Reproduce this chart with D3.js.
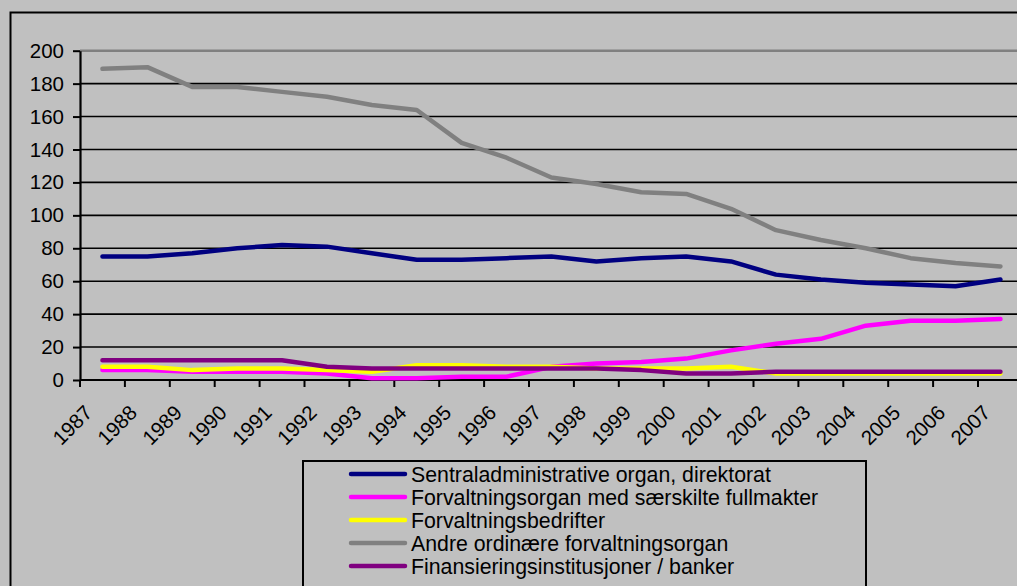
<!DOCTYPE html>
<html>
<head>
<meta charset="utf-8">
<script src="https://cdn.jsdelivr.net/npm/d3@7"></script>
<style>
  body { margin: 0; background: #c0c0c0; overflow: hidden; }
  svg text { font-family: "Liberation Sans", Arial, sans-serif; fill: #000; }
</style>
</head>
<body>
<div id="chart"></div>
<script>
const years = ["1987","1988","1989","1990","1991","1992","1993","1994","1995","1996","1997",
               "1998","1999","2000","2001","2002","2003","2004","2005","2006","2007"]

const seriesNames = [
  "Sentraladministrative organ, direktorat",
  "Forvaltningsorgan med særskilte fullmakter",
  "Forvaltningsbedrifter",
  "Andre ordinære forvaltningsorgan",
  "Finansieringsinstitusjoner / banker"
]

const sentral   = [75, 75, 77, 80, 82, 81, 77, 73, 73, 74, 75, 72, 74, 75, 72, 64, 61, 59, 58, 57, 61]
const fullmakt  = [6, 6, 5, 5, 5, 4, 1, 1, 2, 2, 8, 10, 11, 13, 18, 22, 25, 33, 36, 36, 37]
const bedrifter = [8, 8, 6, 7, 7, 6, 5, 9, 9, 8, 8, 7, 7, 7, 8, 4, 4, 4, 4, 4, 4]
const andre     = [189, 190, 178, 178, 175, 172, 167, 164, 144, 135, 123, 119, 114, 113, 104, 91, 85, 80, 74, 71, 69]
const finans    = [12, 12, 12, 12, 12, 8, 7, 7, 7, 7, 7, 7, 6, 4, 4, 5, 5, 5, 5, 5, 5]

const yTicks = [0, 20, 40, 60, 80, 100, 120, 140, 160, 180, 200]

const colors = ["#000080", "#ff00ff", "#ffff00", "#808080", "#800080"]
const allSeries = [sentral, fullmakt, bedrifter, andre, finans]

const width = 1017
const height = 586

const svg = d3.select("#chart")
  .append("svg")
    .attr("width", width)
    .attr("height", height)

svg.append("rect")
    .attr("x", 0).attr("y", 0)
    .attr("width", width).attr("height", height)
    .attr("fill", "#c0c0c0")

// outer frame (runs off the right and bottom edge)
svg.append("rect")
    .attr("x", 10.5).attr("y", 12.5)
    .attr("width", width + 20).attr("height", height + 20)
    .attr("fill", "none")
    .attr("stroke", "#000")
    .attr("stroke-width", 2)

const plotLeft = 80
const step = 44.9
const xScale = d3.scaleBand()
  .domain(years)
  .range([plotLeft, plotLeft + step * years.length])

const yScale = d3.scaleLinear()
  .domain([0, 200])
  .range([380, 50.7])

// gridlines
svg.append("g")
  .selectAll("line")
  .data(yTicks.filter(d => d > 0))
  .enter().append("line")
    .attr("x1", plotLeft)
    .attr("x2", width)
    .attr("y1", d => yScale(d))
    .attr("y2", d => yScale(d))
    .attr("stroke", d => d === 200 ? "#808080" : "#000")
    .attr("stroke-width", d => d === 200 ? 2.5 : 1.6)

// y axis
const yAxis = d3.axisLeft(yScale).tickValues(yTicks).tickSize(7).tickPadding(9).tickSizeOuter(0)
const yG = svg.append("g")
    .attr("transform", "translate(" + plotLeft + ",0)")
    .call(yAxis)
yG.select(".domain").attr("stroke", "#000").attr("stroke-width", 2.2)
yG.selectAll(".tick line").attr("stroke", "#000").attr("stroke-width", 2)
yG.selectAll(".tick text")
    .attr("font-size", 20.5)
    .attr("font-family", "Liberation Sans, Arial, sans-serif")
    .attr("fill", "#000")

// x axis: ticks on category boundaries
const boundaries = d3.range(years.length + 1).map(i => plotLeft + i * step)
svg.append("line")
    .attr("x1", plotLeft).attr("x2", width)
    .attr("y1", yScale(0)).attr("y2", yScale(0))
    .attr("stroke", "#000").attr("stroke-width", 2.2)
svg.append("g")
  .selectAll("line")
  .data(boundaries)
  .enter().append("line")
    .attr("x1", d => d).attr("x2", d => d)
    .attr("y1", yScale(0)).attr("y2", yScale(0) + 7)
    .attr("stroke", "#000").attr("stroke-width", 2)

svg.append("g")
  .selectAll("text")
  .data(years)
  .enter().append("text")
    .text(d => d)
    .attr("font-size", 20.5)
    .attr("text-anchor", "end")
    .attr("transform", d => "translate(" + (xScale(d) + xScale.bandwidth() / 2 - 9) + ",414)rotate(-45)")

// lines
const line = d3.line()
  .x((d, i) => xScale(years[i]) + xScale.bandwidth() / 2)
  .y(d => yScale(d))

svg.append("g")
  .selectAll("path")
  .data(allSeries)
  .enter().append("path")
    .attr("d", d => line(d))
    .attr("fill", "none")
    .attr("stroke", (d, i) => colors[i])
    .attr("stroke-width", 4.5)
    .attr("stroke-linejoin", "round")
    .attr("stroke-linecap", "round")

// legend
const legend = svg.append("g")
legend.append("rect")
    .attr("x", 303).attr("y", 461)
    .attr("width", 563).attr("height", 160)
    .attr("fill", "#c0c0c0")
    .attr("stroke", "#000")
    .attr("stroke-width", 2)

const rows = legend.selectAll("g.row")
  .data(seriesNames)
  .enter().append("g")
    .attr("class", "row")
    .attr("transform", (d, i) => "translate(0," + (474 + i * 23) + ")")

rows.append("line")
    .attr("x1", 351).attr("x2", 405)
    .attr("y1", 0).attr("y2", 0)
    .attr("stroke", (d, i) => colors[i])
    .attr("stroke-width", 4.5)
    .attr("stroke-linecap", "round")

rows.append("text")
    .text(d => d)
    .attr("x", 411)
    .attr("y", 7.5)
    .attr("font-size", 21.3)
</script>
</body>
</html>
